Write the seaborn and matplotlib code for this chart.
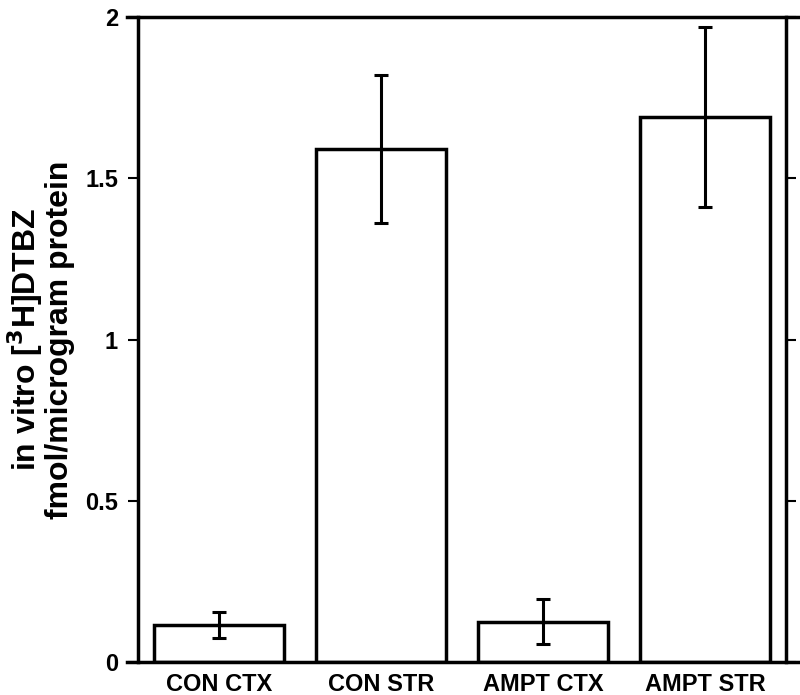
import matplotlib
matplotlib.use("Agg")
import matplotlib.pyplot as plt
import seaborn as sns
import pandas as pd

categories = ["CON CTX", "CON STR", "AMPT CTX", "AMPT STR"]
means = [0.115, 1.59, 0.125, 1.69]
errors = [0.04, 0.23, 0.07, 0.28]
ytick_values = [0, 0.5, 1, 1.5, 2]
ytick_labels = ["0", "0.5", "1", "1.5", "2"]

sns.set_theme(style="white")
plt.rcParams["font.family"] = ["Liberation Sans", "DejaVu Sans"]
plt.rcParams["font.weight"] = "bold"
plt.rcParams["text.color"] = "black"
plt.rcParams["axes.labelcolor"] = "black"
plt.rcParams["xtick.color"] = "black"
plt.rcParams["ytick.color"] = "black"

df = pd.DataFrame({"group": categories, "value": means})

fig = plt.figure(figsize=(8, 6.95), dpi=100)
ax = fig.add_axes([0.15875, 0.0475, 0.83875, 0.928])

sns.barplot(data=df, x="group", y="value", order=categories, errorbar=None,
            color="white", edgecolor="black", linewidth=2.5, width=0.8, ax=ax)

centers = [p.get_x() + p.get_width() / 2 for p in ax.patches]
ax.errorbar(centers, means, yerr=errors, fmt="none", ecolor="black",
            elinewidth=2.2, capsize=5, capthick=2.2, zorder=5)

ax.set_xlim(-0.568, 3.574)
ax.set_ylim(0, 2)

for side in ["left", "right", "top", "bottom"]:
    ax.spines[side].set_visible(True)
    ax.spines[side].set_color("black")
    ax.spines[side].set_linewidth(2.5)
ax.spines["left"].set_position(("data", -0.5))
ax.spines["right"].set_position(("data", 3.5))

ax.set_yticks(ytick_values)
ax.set_yticklabels(ytick_labels)
ax.tick_params(axis="y", which="both", direction="out", length=7.5, width=1.5,
               left=True, right=True, labelleft=True, labelright=False,
               labelsize=17, pad=7, colors="black")
ax.tick_params(axis="x", length=0, labelsize=17, pad=8, colors="black")
for lab in ax.get_xticklabels() + ax.get_yticklabels():
    lab.set_fontweight("bold")

ax.set_xlabel("")
ax.set_ylabel("in vitro [$\\mathbf{^3}$H]DTBZ\nfmol/microgram protein",
              fontsize=23, fontweight="bold", linespacing=1.0, color="black")
ax.yaxis.set_label_coords(-0.078, 0.5)

fig.savefig("out.png", dpi=100, facecolor="white")
